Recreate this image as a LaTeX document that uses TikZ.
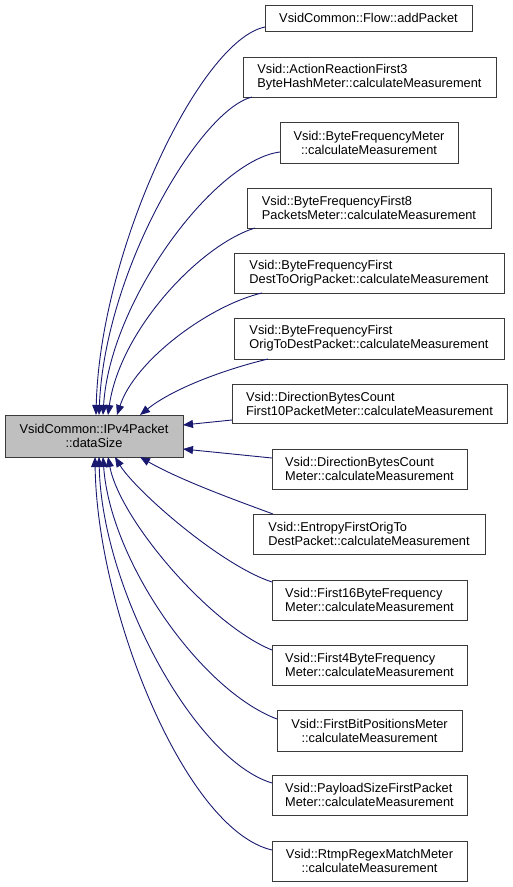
\documentclass[tikz,border=0pt]{standalone}
\usepackage{fontspec}
\setmainfont{Liberation Sans}
\usetikzlibrary{arrows.meta}
\definecolor{edgeblue}{HTML}{191970}
\definecolor{boxline}{HTML}{3A3A3A}
\definecolor{mainfill}{HTML}{BFBFBF}
\tikzset{
  fn/.style={draw=boxline, line width=1pt, fill=white, inner sep=0pt, outer sep=0pt,
    font=\fontsize{12.8}{14}\selectfont, align=left},
  fnc/.style={fn, align=center},
  edge/.style={draw=edgeblue, line width=0.9pt, {Triangle[length=10pt,width=8pt]}-},
}
\begin{document}
\begin{tikzpicture}[x=1pt,y=-1pt]
\useasboundingbox (0,0) rectangle (512,887);
\node[fnc, fill=mainfill, minimum width=178pt, minimum height=42pt] (main) at (94,436) {VsidCommon::IPv4Packet\\::dataSize};
\node[fn, align=center, minimum width=207pt, minimum height=26pt] (b1) at (368.5,18) {VsidCommon::Flow::addPacket};
\node[fn, minimum width=253pt, minimum height=40pt] (b2) at (369.5,77) {Vsid::ActionReactionFirst3\\ByteHashMeter::calculateMeasurement};
\node[fnc, minimum width=178pt, minimum height=41pt] (b3) at (369,142.5) {Vsid::ByteFrequencyMeter\\::calculateMeasurement};
\node[fn, minimum width=244pt, minimum height=40pt] (b4) at (369,208) {Vsid::ByteFrequencyFirst8\\PacketsMeter::calculateMeasurement};
\node[fn, minimum width=270pt, minimum height=40pt] (b5) at (369,273) {Vsid::ByteFrequencyFirst\\DestToOrigPacket::calculateMeasurement};
\node[fn, minimum width=270pt, minimum height=41pt] (b6) at (369,338.5) {Vsid::ByteFrequencyFirst\\OrigToDestPacket::calculateMeasurement};
\node[fn, minimum width=275pt, minimum height=39pt] (b7) at (369.5,403.5) {Vsid::DirectionBytesCount\\First10PacketMeter::calculateMeasurement};
\node[fn, minimum width=195pt, minimum height=40pt] (b8) at (369.5,469) {Vsid::DirectionBytesCount\\Meter::calculateMeasurement};
\node[fn, minimum width=232pt, minimum height=40pt] (b9) at (369,534) {Vsid::EntropyFirstOrigTo\\DestPacket::calculateMeasurement};
\node[fn, minimum width=195pt, minimum height=40pt] (b10) at (369.5,600) {Vsid::First16ByteFrequency\\Meter::calculateMeasurement};
\node[fn, minimum width=195pt, minimum height=40pt] (b11) at (369.5,665) {Vsid::First4ByteFrequency\\Meter::calculateMeasurement};
\node[fnc, minimum width=185pt, minimum height=41pt] (b12) at (369.5,730.5) {Vsid::FirstBitPositionsMeter\\::calculateMeasurement};
\node[fn, minimum width=195pt, minimum height=40pt] (b13) at (369.5,795) {Vsid::PayloadSizeFirstPacket\\Meter::calculateMeasurement};
\node[fnc, minimum width=195pt, minimum height=40pt] (b14) at (369.5,861) {Vsid::RtmpRegexMatchMeter\\::calculateMeasurement};
% upper edges
\draw[edge] ([xshift=91pt]main.north west) .. controls (100,250) and (200,40) .. ([yshift=-9pt]b1.west);
\draw[edge] ([xshift=94pt]main.north west) .. controls (105,270) and (200,110) .. ([xshift=9pt]b2.south west);
\draw[edge] ([xshift=98pt]main.north west) .. controls (110,300) and (215,160) .. ([yshift=-9.5pt]b3.west);
\draw[edge] ([xshift=103pt]main.north west) .. controls (120,330) and (200,245) .. ([xshift=8pt]b4.south west);
\draw[edge] ([xshift=112pt]main.north west) .. controls (135,360) and (210,305) .. ([xshift=28pt]b5.south west);
\draw[edge] ([xshift=135pt]main.north west) .. controls (175,387) and (230,368) .. ([xshift=34pt]b6.south west);
% right edges
\draw[edge] ([yshift=11pt]main.east) -- ([yshift=-16.5pt]b7.west);
\draw[edge] ([yshift=-13pt]main.east) -- ([yshift=11pt]b8.west);
% lower edges
\draw[edge] ([xshift=135pt]main.south west) .. controls (180,480) and (235,500) .. ([xshift=20pt]b9.north west);
\draw[edge] ([xshift=110pt]main.south west) .. controls (135,490) and (220,565) .. ([yshift=18pt]b10.west);
\draw[edge] ([xshift=103pt]main.south west) .. controls (120,520) and (210,625) .. ([yshift=15pt]b11.west);
\draw[edge] ([xshift=98pt]main.south west) .. controls (110,560) and (200,690) .. ([yshift=11.5pt]b12.west);
\draw[edge] ([xshift=94pt]main.south west) .. controls (102,590) and (195,760) .. ([yshift=12pt]b13.west);
\draw[edge] ([xshift=90pt]main.south west) .. controls (97,610) and (185,830) .. ([yshift=11pt]b14.west);
\end{tikzpicture}
\end{document}
